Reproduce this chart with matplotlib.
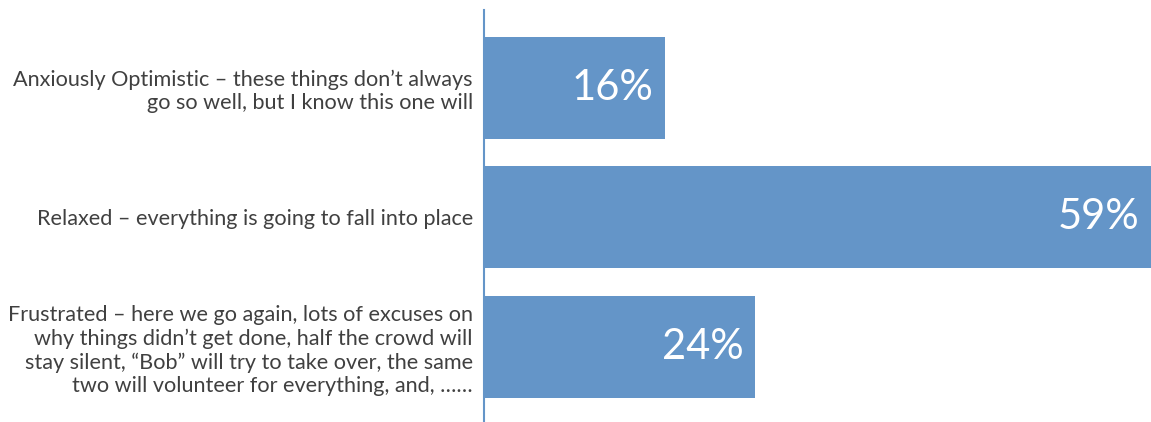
import matplotlib
matplotlib.use("Agg")
from matplotlib import pyplot as plt

labels = [
    "Anxiously Optimistic \u2013 these things don\u2019t always\ngo so well, but I know this one will",
    "Relaxed \u2013 everything is going to fall into place",
    "Frustrated \u2013 here we go again, lots of excuses on\n"
    "why things didn\u2019t get done, half the crowd will\n"
    "stay silent, \u201cBob\u201d will try to take over, the same\n"
    "two will volunteer for everything, and, \u2026\u2026",
]
values = [16, 59, 24]

BAR_COLOR = "#6495c8"
TEXT_COLOR = "#404040"

plt.rcParams['font.family'] = ['Lato', 'DejaVu Sans']

fig = plt.figure(figsize=(11.51, 4.22), dpi=100)
ax = fig.add_axes([484 / 1151, 0, 1 - 484 / 1151, 412 / 422])

pos = list(range(len(values)))
ax.barh(pos, values, height=0.79, color=BAR_COLOR)

ax.set_xlim(0, 59)
ax.set_ylim(2.58, -0.6)

for p, v in zip(pos, values):
    ax.annotate(f"{v}%", (v, p), xytext=(-8, 0), textcoords="offset points",
                ha="right", va="center", color="white", fontsize=30)

ax.set_yticks(pos)
ax.set_yticklabels(labels, fontsize=15.6, color=TEXT_COLOR, linespacing=1.22)
ax.tick_params(axis="y", length=0, pad=8)
ax.set_xticks([])

for s in ["top", "right", "bottom"]:
    ax.spines[s].set_visible(False)
ax.spines["left"].set_color(BAR_COLOR)
ax.spines["left"].set_linewidth(1.5)

fig.savefig("out.png", dpi=100)
